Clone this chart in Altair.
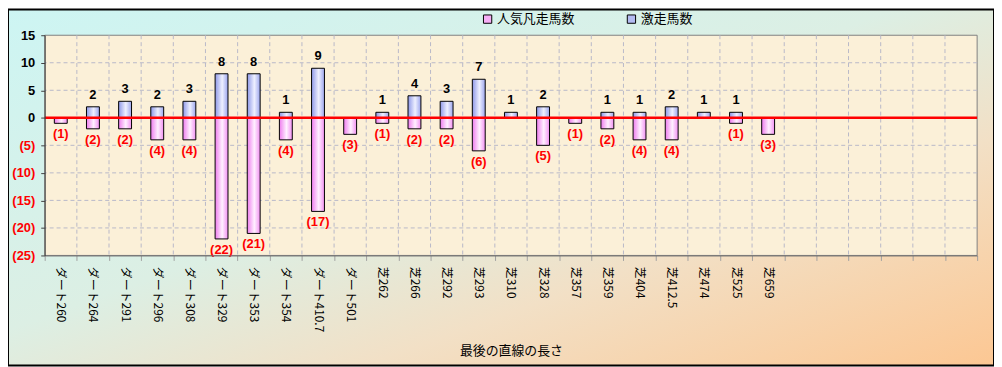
import altair as alt
import pandas as pd

# ---- data ----
categories = ["ダート260", "ダート264", "ダート291", "ダート296", "ダート308",
              "ダート329", "ダート353", "ダート354", "ダート410.7", "ダート501",
              "芝262", "芝266", "芝292", "芝293", "芝310", "芝328", "芝357",
              "芝359", "芝404", "芝412.5", "芝474", "芝525", "芝659"]
gekiso = [0, 2, 3, 2, 3, 8, 8, 1, 9, 0, 1, 4, 3, 7, 1, 2, 0, 1, 1, 2, 1, 1, 0]
ninki = [1, 2, 2, 4, 4, 22, 21, 4, 17, 3, 1, 2, 2, 6, 0, 5, 1, 2, 4, 4, 0, 1, 3]
empty_slots = ["_1", "_2", "_3", "_4", "_5", "_6"]
y_ticks = [-25, -20, -15, -10, -5, 0, 5, 10, 15]
h_grid = [-20, -15, -10, -5, 5, 10]
series_names = ["人気凡走馬数", "激走馬数"]

W, H = 940, 222
PAD = {"left": 37, "top": 26, "right": 17, "bottom": 111}

domain = categories + empty_slots

blue_df = pd.DataFrame([{"cat": c, "val": g, "lab": str(g)}
                        for c, g in zip(categories, gekiso) if g > 0])
pink_df = pd.DataFrame([{"cat": c, "val": -n, "lab": "(%d)" % n}
                        for c, n in zip(categories, ninki) if n > 0])
vgrid_df = pd.DataFrame({"cat": domain[1:]})
hgrid_df = pd.DataFrame({"val": h_grid})
zero_df = pd.DataFrame({"val": [0]})
one_df = pd.DataFrame({"a": [0]})
legend_df = pd.DataFrame({"series": series_names})

xscale = alt.Scale(domain=domain, paddingInner=0, paddingOuter=0)
xaxis = alt.Axis(
    title="最後の直線の長さ", labelAngle=90, labelAlign="left", labelBaseline="middle",
    labelExpr="indexof(datum.label, '_') == 0 ? '' : datum.label",
    tickBand="extent", grid=False, zindex=1, labelOverlap=False,
    labelFont="Noto Sans CJK JP", labelFontSize=12, labelColor="black",
    labelPadding=6, tickSize=5, tickColor="#a0a0a0", domainColor="#707070",
    titleFont="Noto Sans CJK JP", titleFontSize=13, titleFontWeight="normal",
    titleColor="black", titleY=96, titleBaseline="middle",
)
yscale = alt.Scale(domain=[-25, 15], nice=False, zero=False)
yaxis = alt.Axis(
    title=None, values=y_ticks, grid=False, zindex=1,
    labelExpr="datum.value < 0 ? '(' + abs(datum.value) + ')' : datum.value",
    labelColor={"condition": {"test": "datum.value < 0", "value": "#ff0000"}, "value": "#000000"},
    labelFont="Liberation Sans", labelFontSize=13, labelFontWeight="bold",
    labelPadding=6, tickSize=4, tickColor="#404040", domainColor="#404040",
)


def X(**kw):
    return alt.X("cat:N", scale=xscale, axis=xaxis, **kw)


def Y():
    return alt.Y("val:Q", scale=yscale, axis=yaxis)


bg_grad = alt.LinearGradient(
    gradient="linear", x1=0, y1=0, x2=1, y2=1,
    stops=[alt.GradientStop(offset=0, color="#cdf5f3"),
           alt.GradientStop(offset=0.45, color="#dcefe4"),
           alt.GradientStop(offset=0.68, color="#f2e0c6"),
           alt.GradientStop(offset=1, color="#fcc793")])
blue_grad = alt.LinearGradient(
    gradient="linear", x1=0, y1=0, x2=1, y2=0,
    stops=[alt.GradientStop(offset=0, color="#8e98e8"),
           alt.GradientStop(offset=0.55, color="#eef0ff"),
           alt.GradientStop(offset=1, color="#9ca5ee")])
pink_grad = alt.LinearGradient(
    gradient="linear", x1=0, y1=0, x2=1, y2=0,
    stops=[alt.GradientStop(offset=0, color="#ee7cee"),
           alt.GradientStop(offset=0.55, color="#fff0ff"),
           alt.GradientStop(offset=1, color="#f290f2")])

outer = alt.Chart(one_df).mark_rect(fill=bg_grad, stroke="black", strokeWidth=2, clip=False).encode(
    x=alt.value(-PAD["left"]), x2=alt.value(W + PAD["right"]),
    y=alt.value(-PAD["top"]), y2=alt.value(H + PAD["bottom"]))

plot_bg = alt.Chart(one_df).mark_rect(fill="#fbf0d8", stroke="#808080", strokeWidth=1).encode(
    x=alt.value(0), x2=alt.value(W), y=alt.value(0), y2=alt.value(H))

hgrid = alt.Chart(hgrid_df).mark_rule(color="#b8b8c8", strokeDash=[4, 3], strokeWidth=1).encode(y=Y())
vgrid = alt.Chart(vgrid_df).mark_rule(color="#b8b8c8", strokeDash=[4, 3], strokeWidth=1).encode(
    x=X(bandPosition=0))

pink_bars = alt.Chart(pink_df).mark_bar(size=13, fill=pink_grad, stroke="black", strokeWidth=1).encode(
    x=X(), y=Y(), y2=alt.datum(0))
blue_bars = alt.Chart(blue_df).mark_bar(size=13, fill=blue_grad, stroke="black", strokeWidth=1).encode(
    x=X(), y=Y(), y2=alt.datum(0))

zero_line = alt.Chart(zero_df).mark_rule(color="#ff0000", strokeWidth=2.5).encode(y=Y())

blue_text = alt.Chart(blue_df).mark_text(
    baseline="bottom", dy=-5, font="Liberation Sans", fontWeight="bold", fontSize=13, color="black"
).encode(x=X(), y=Y(), text="lab:N")
pink_text = alt.Chart(pink_df).mark_text(
    baseline="top", dy=5, font="Liberation Sans", fontWeight="bold", fontSize=13, color="#ff0000"
).encode(x=X(), y=Y(), text="lab:N")

legend_layer = alt.Chart(legend_df).mark_point(shape="square", filled=True, opacity=0, size=70).encode(
    color=alt.Color("series:N",
                    scale=alt.Scale(domain=series_names, range=["#f6aef6", "#b4bcf2"]),
                    legend=alt.Legend(orient="none", legendX=440, legendY=-23, direction="horizontal",
                                      title=None, symbolType="square", symbolSize=70,
                                      symbolStrokeColor="black", symbolStrokeWidth=1,
                                      symbolOpacity=1, labelFont="Noto Sans CJK JP",
                                      labelFontSize=13, labelColor="black",
                                      columnPadding=50, padding=0, labelOffset=3)))

chart = alt.layer(
    outer, plot_bg, hgrid, vgrid, pink_bars, blue_bars, zero_line, blue_text, pink_text, legend_layer
).properties(
    width=W, height=H,
    autosize=alt.AutoSizeParams(type="none"),
    padding=PAD,
).configure_view(stroke=None).configure(background="white")

chart.save("out.html", embed_options={"renderer": "svg", "actions": False})
